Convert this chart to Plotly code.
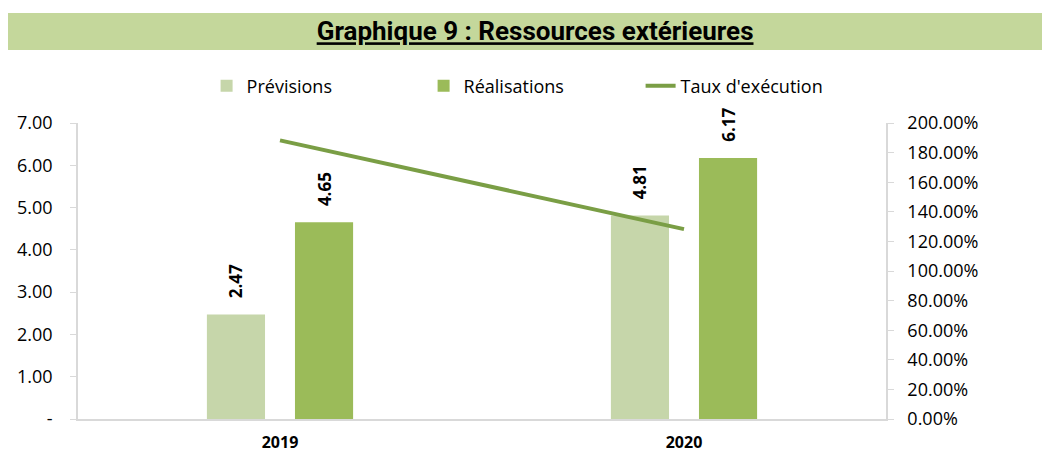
import plotly.graph_objects as go

LIGHT_COLOR = "#C6D6AA"
DARK_COLOR = "#9BBB59"
LINE_COLOR = "#7A9E45"
BANNER_COLOR = "#C4D79B"
AXIS_COLOR = "#D9D9D9"

years = ["2019", "2020"]
previsions = [2.47, 4.81]
realisations = [4.65, 6.17]
taux = [r / p for r, p in zip(realisations, previsions)]

left_ticks = [0, 1, 2, 3, 4, 5, 6, 7]
left_labels = ["-", "1.00", "2.00", "3.00", "4.00", "5.00", "6.00", "7.00"]
right_ticks = [0, 0.2, 0.4, 0.6, 0.8, 1.0, 1.2, 1.4, 1.6, 1.8, 2.0]

FONT = "Open Sans"

fig = go.Figure()

fig.add_trace(go.Bar(
    x=years, y=previsions, name="Prévisions",
    marker=dict(color=LIGHT_COLOR, line=dict(width=0)),
    text=previsions, texttemplate="\u00a0\u00a0\u00a0%{y:.2f}",
    textposition="outside", textangle=-90, cliponaxis=False, constraintext="none",
    textfont=dict(family=FONT, size=17, color="black", weight="bold"),
))

fig.add_trace(go.Bar(
    x=years, y=realisations, name="Réalisations",
    marker=dict(color=DARK_COLOR, line=dict(width=0)),
    text=realisations, texttemplate="\u00a0\u00a0\u00a0%{y:.2f}",
    textposition="outside", textangle=-90, cliponaxis=False, constraintext="none",
    textfont=dict(family=FONT, size=17, color="black", weight="bold"),
))

fig.add_trace(go.Scatter(
    x=years, y=taux, name="Taux d'exécution", yaxis="y2",
    mode="lines", line=dict(color=LINE_COLOR, width=4),
))

# title banner
fig.add_shape(
    type="rect", xref="paper", yref="paper",
    x0=-0.09, x1=1.25, y0=1.2466, y1=1.3716,
    fillcolor=BANNER_COLOR, line=dict(width=0), layer="below",
)

fig.update_layout(
    width=1050, height=455,
    margin=dict(l=70, r=172, t=115, b=44, autoexpand=False),
    plot_bgcolor="white", paper_bgcolor="white",
    font=dict(family=FONT, size=16, color="black"),
    title=dict(
        text="<u>Graphique 9 : Ressources extérieures</u>",
        font=dict(family="Roboto", size=26, color="black", weight="bold"),
        x=0.502, xref="container", xanchor="center",
        y=0.949, yref="container", yanchor="middle",
    ),
    barmode="group", bargap=0.564, bargroupgap=0.34,
    showlegend=True,
    legend=dict(
        orientation="h", x=0.562, xanchor="center",
        y=1.125, yanchor="middle", entrywidth=172,
        font=dict(family=FONT, size=18),
        traceorder="normal",
    ),
    xaxis=dict(
        showgrid=False, showline=True, linecolor=AXIS_COLOR, linewidth=1.5,
        ticks="", ticklabelstandoff=8,
        tickfont=dict(family=FONT, size=16, weight="bold"),
    ),
    yaxis=dict(
        range=[0, 7], tickvals=left_ticks, ticktext=left_labels,
        showgrid=False, zeroline=False, showline=True, linecolor=AXIS_COLOR,
        linewidth=1.5, ticks="outside", ticklen=6, tickcolor=AXIS_COLOR,
        ticklabelstandoff=14, tickfont=dict(family=FONT, size=18),
    ),
    yaxis2=dict(
        range=[0, 2], tickvals=right_ticks, tickformat=".2%",
        overlaying="y", side="right",
        showgrid=False, zeroline=False, showline=True, linecolor=AXIS_COLOR,
        linewidth=1.5, ticks="outside", ticklen=6, tickcolor=AXIS_COLOR,
        ticklabelstandoff=10, tickfont=dict(family=FONT, size=18),
    ),
)

fig.write_html("out.html")
